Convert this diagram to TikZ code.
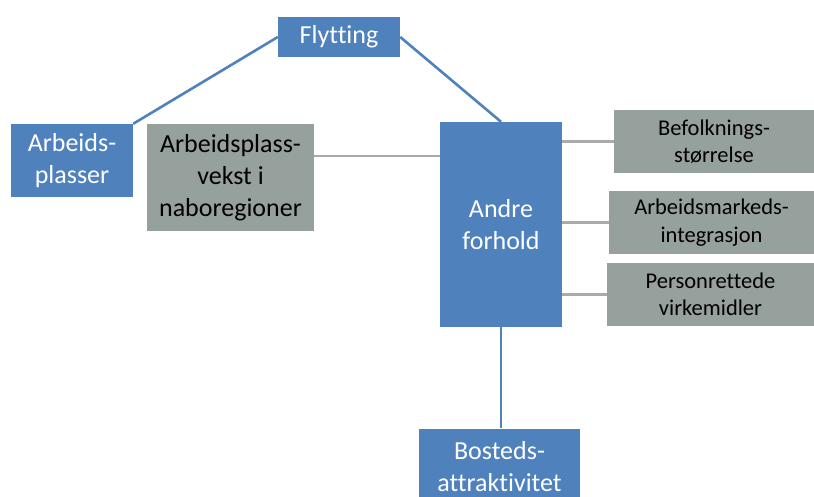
\documentclass[tikz,border=0pt]{standalone}
\usepackage{fontspec}
\setmainfont{Carlito}[Ligatures={NoCommon}]
\definecolor{boxblue}{RGB}{79,129,189}
\definecolor{boxgray}{RGB}{150,160,156}
\definecolor{linegray}{RGB}{170,170,170}
\tikzset{
  bluebox/.style={rectangle, fill=boxblue, text=white, align=center, inner sep=0pt,
    font=\fontsize{26}{32}\selectfont},
  graybox/.style={rectangle, fill=boxgray, text=black, align=center, inner sep=0pt,
    font=\fontsize{26}{32}\selectfont},
  smallgray/.style={graybox, font=\fontsize{22.5}{27.5}\selectfont},
  bline/.style={boxblue, line width=2.6pt},
  gline/.style={linegray, line width=2.6pt}
}
\begin{document}
\begin{tikzpicture}[x=1pt, y=-1pt]
\useasboundingbox (0,0) rectangle (814,497);

% === blue boxes ===
\node[bluebox, minimum width=122pt, minimum height=40pt] (flytting) at (339,37) {Flytting};
\node[bluebox, minimum width=122pt, minimum height=73pt] (arbeid) at (72,160.5) {Arbeids-\\plasser};
\node[bluebox, minimum width=122pt, minimum height=205pt] (andre) at (501,224.5) {Andre\\forhold};
\node[bluebox, minimum width=161pt, minimum height=77pt] (bosted) at (499.5,467) {Bosteds-\\attraktivitet};

% === gray boxes ===
\node[graybox, minimum width=167pt, minimum height=107pt] (vekst) at (230.5,177.5) {Arbeidsplass-\\vekst i\\naboregioner};
\node[smallgray, minimum width=200pt, minimum height=63pt] (befolk) at (714,141.5) {Befolknings-\\størrelse};
\node[smallgray, minimum width=205pt, minimum height=63pt] (integ) at (711.5,222.5) {Arbeidsmarkeds-\\integrasjon};
\node[smallgray, minimum width=207pt, minimum height=63pt] (person) at (710.5,294.5) {Personrettede\\virkemidler};

% === connectors ===
\coordinate (vekstrow) at (0,156);
\draw[bline] (flytting.west) -- (arbeid.north east);
\draw[bline] (flytting.east) -- (andre.north);
\draw[bline] (andre.south) -- (andre.south |- bosted.north);
\draw[gline] (vekst.east |- vekstrow) -- (andre.west |- vekstrow);
\draw[gline] (andre.east |- befolk.west) -- (befolk.west);
\draw[gline] (andre.east |- integ.west) -- (integ.west);
\draw[gline] (andre.east |- person.west) -- (person.west);

\end{tikzpicture}
\end{document}
